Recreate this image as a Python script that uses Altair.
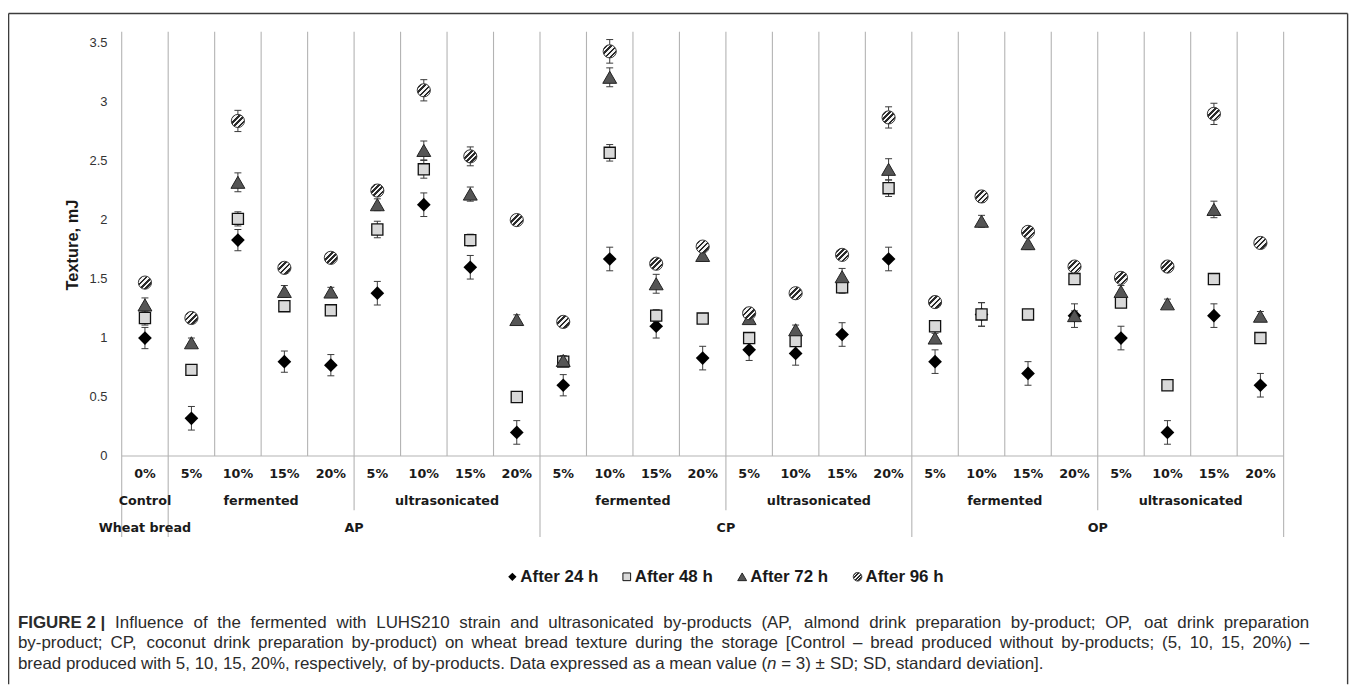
import altair as alt
import pandas as pd

# ---------------- data ----------------
pct_labels = ["0%", "5%", "10%", "15%", "20%", "5%", "10%", "15%", "20%",
              "5%", "10%", "15%", "20%", "5%", "10%", "15%", "20%",
              "5%", "10%", "15%", "20%", "5%", "10%", "15%", "20%"]
level2_names = ["Control", "fermented", "ultrasonicated", "fermented",
                "ultrasonicated", "fermented", "ultrasonicated"]
level2_sizes = [1, 4, 4, 4, 4, 4, 4]
level3_names = ["Wheat bread", "AP", "CP", "OP"]
level3_sizes = [1, 8, 8, 8]

series_names = ["After 24 h", "After 48 h", "After 72 h", "After 96 h"]
after_24h = [1.00, 0.32, 1.83, 0.80, 0.77, 1.38, 2.13, 1.60, 0.20,
             0.60, 1.67, 1.10, 0.83, 0.90, 0.87, 1.03, 1.67,
             0.80, 1.20, 0.70, 1.19, 1.00, 0.20, 1.19, 0.60]
after_48h = [1.17, 0.73, 2.01, 1.27, 1.235, 1.92, 2.43, 1.83, 0.50,
             0.80, 2.57, 1.19, 1.165, 1.00, 0.975, 1.43, 2.27,
             1.10, 1.20, 1.20, 1.50, 1.30, 0.60, 1.50, 1.00]
after_72h = [1.28, 0.96, 2.32, 1.395, 1.39, 2.13, 2.59, 2.22, 1.157,
             0.81, 3.21, 1.46, 1.70, 1.165, 1.07, 1.52, 2.43,
             1.00, 1.99, 1.80, 1.19, 1.395, 1.29, 2.09, 1.185]
after_96h = [1.47, 1.17, 2.84, 1.595, 1.68, 2.25, 3.10, 2.54, 2.00,
             1.137, 3.43, 1.63, 1.775, 1.21, 1.38, 1.705, 2.87,
             1.305, 2.20, 1.90, 1.606, 1.51, 1.606, 2.90, 1.806]
sd_24h = [0.09, 0.10, 0.09, 0.09, 0.09, 0.10, 0.10, 0.10, 0.10,
          0.09, 0.10, 0.10, 0.10, 0.09, 0.10, 0.10, 0.10,
          0.10, 0.10, 0.10, 0.10, 0.10, 0.10, 0.10, 0.10]
sd_48h = [0.06, 0.04, 0.06, 0.04, 0.04, 0.07, 0.075, 0.05, 0.04,
          0.04, 0.07, 0.05, 0.04, 0.04, 0.04, 0.05, 0.07,
          0.04, 0.10, 0.04, 0.04, 0.04, 0.04, 0.04, 0.04]
sd_72h = [0.06, 0.04, 0.08, 0.05, 0.04, 0.05, 0.08, 0.06, 0.04,
          0.04, 0.08, 0.08, 0.05, 0.04, 0.04, 0.07, 0.09,
          0.04, 0.05, 0.05, 0.04, 0.05, 0.04, 0.07, 0.04]
sd_96h = [0.04, 0.04, 0.09, 0.04, 0.04, 0.05, 0.09, 0.08, 0.04,
          0.04, 0.10, 0.04, 0.04, 0.04, 0.04, 0.04, 0.09,
          0.04, 0.05, 0.04, 0.04, 0.04, 0.04, 0.09, 0.04]

y_ticks = [0, 0.5, 1, 1.5, 2, 2.5, 3, 3.5]
y_tick_labels = ["0", "0.5", "1", "1.5", "2", "2.5", "3", "3.5"]
y_title = "Texture, mJ"
y_axis_max = 3.597

caption_bold = "FIGURE 2 |"
caption_line1 = ("Influence of the fermented with LUHS210 strain and ultrasonicated "
                 "by-products (AP, almond drink preparation by-product; OP, oat drink preparation")
caption_line2 = ("by-product; CP, coconut drink preparation by-product) on wheat bread texture during "
                 "the storage [Control \u2013 bread produced without by-products; (5, 10, 15, 20%) \u2013")
caption_line3 = ("bread produced with 5, 10, 15, 20%, respectively, of by-products. Data expressed "
                 "as a mean value (n = 3) \u00b1 SD; SD, standard deviation].")
caption_italic_word = "(n"

# ---------------- layout ----------------
W, H = 1348, 678
PX_CAT = 46.72          # px per category
PLOT_LEFT = 114.3       # px from chart left to first category edge
PX_UNIT = 118.6         # px per mJ
ZERO_Y = 448.6          # px from chart top to y = 0


def ux(px):
    return (px - PLOT_LEFT) / PX_CAT


def uy(py):
    return (ZERO_Y - py) / PX_UNIT


xs = alt.Scale(domain=[ux(0), ux(W)], nice=False, zero=False)
ys = alt.Scale(domain=[uy(H), uy(0)], nice=False, zero=False)


def X(f="x"):
    return alt.X(f"{f}:Q", scale=xs, axis=None)


def Y(f="y"):
    return alt.Y(f"{f}:Q", scale=ys, axis=None)


n_cat = len(pct_labels)
GRID = "#b3b3b3"
TXT = "#1a1a1a"

# gridlines
grid_df = pd.DataFrame({"x": list(range(n_cat + 1)), "y": 0.0, "y2": y_axis_max})
grid = alt.Chart(grid_df).mark_rule(color=GRID, strokeWidth=1.1).encode(
    x=X(), y=Y(), y2="y2:Q")

axis_df = pd.DataFrame({"x": [0], "x2": [n_cat], "y": [0.0]})
axis_line = alt.Chart(axis_df).mark_rule(color=GRID, strokeWidth=1.1).encode(
    x=X(), x2="x2:Q", y=Y())

# separators below the axis
l3_edges = [0]
for s in level3_sizes:
    l3_edges.append(l3_edges[-1] + s)
l2_edges = [0]
for s in level2_sizes:
    l2_edges.append(l2_edges[-1] + s)
sep_rows = []
for e in l3_edges:
    sep_rows.append({"x": e, "y": 0.0, "y2": uy(530)})
for e in l2_edges:
    if e not in l3_edges:
        sep_rows.append({"x": e, "y": 0.0, "y2": uy(503)})
sep = alt.Chart(pd.DataFrame(sep_rows)).mark_rule(color=GRID, strokeWidth=1.1).encode(
    x=X(), y=Y(), y2="y2:Q")

# category labels
LBL = dict(font="DejaVu Sans", fontWeight="bold", fontSize=12.8, color=TXT,
           baseline="middle", align="center")
pct_df = pd.DataFrame({"x": [i + 0.5 for i in range(n_cat)], "y": uy(466.3), "t": pct_labels})
pct_text = alt.Chart(pct_df).mark_text(**LBL).encode(x=X(), y=Y(), text="t:N")

l2_rows = []
for name, a, b in zip(level2_names, l2_edges[:-1], l2_edges[1:]):
    l2_rows.append({"x": (a + b) / 2, "y": uy(494), "t": name})
l2_text = alt.Chart(pd.DataFrame(l2_rows)).mark_text(**LBL).encode(x=X(), y=Y(), text="t:N")

l3_rows = []
for name, a, b in zip(level3_names, l3_edges[:-1], l3_edges[1:]):
    l3_rows.append({"x": (a + b) / 2, "y": uy(521), "t": name})
l3_text = alt.Chart(pd.DataFrame(l3_rows)).mark_text(**LBL).encode(x=X(), y=Y(), text="t:N")

# y tick labels and title
yt_df = pd.DataFrame({"x": ux(100), "y": y_ticks, "t": y_tick_labels})
yt_text = alt.Chart(yt_df).mark_text(font="Liberation Sans", fontSize=13, color="#333333",
                                     align="right", baseline="middle").encode(
    x=X(), y=Y(), text="t:N")
ytitle_df = pd.DataFrame({"x": [ux(65.5)], "y": [uy(236.5)], "t": [y_title]})
ytitle = alt.Chart(ytitle_df).mark_text(font="Liberation Sans", fontSize=16.5, fontWeight="bold",
                                        color=TXT, angle=270, align="center", baseline="middle").encode(
    x=X(), y=Y(), text="t:N")

# data
values = [after_24h, after_48h, after_72h, after_96h]
sds = [sd_24h, sd_48h, sd_72h, sd_96h]
rows = []
for s, vals, sdv in zip(series_names, values, sds):
    for i, (v, sd) in enumerate(zip(vals, sdv)):
        rows.append({"series": s, "x": i + 0.5, "y": v, "lo": v - sd, "hi": v + sd})
df = pd.DataFrame(rows)

EB = "#3a3a3a"
err = alt.Chart(df).mark_rule(color=EB, strokeWidth=1).encode(x=X(), y=Y("lo"), y2="hi:Q")
cap_lo = alt.Chart(df).mark_rule(color=EB, strokeWidth=1, xOffset=-3.5, x2Offset=3.5).encode(
    x=X(), x2="x:Q", y=Y("lo"))
cap_hi = alt.Chart(df).mark_rule(color=EB, strokeWidth=1, xOffset=-3.5, x2Offset=3.5).encode(
    x=X(), x2="x:Q", y=Y("hi"))

stops = []
nb = 10
for k in range(nb):
    c = "#f4f4f4" if k % 2 == 0 else "#2a2a2a"
    stops.append({"offset": k / nb, "color": c})
    stops.append({"offset": (k + 1) / nb, "color": c})
hatch = {"gradient": "linear", "stops": stops, "x1": 0, "y1": 0, "x2": 1, "y2": 1}

styles = [
    dict(shape="diamond", filled=True, fill="#000000", strokeWidth=0, size=190, opacity=1),
    dict(shape="square", filled=True, fill="#d9d9d9", stroke="#111111", strokeWidth=1.3, size=125, opacity=1),
    dict(shape="triangle-up", filled=True, fill="#555555", stroke="#222222", strokeWidth=1, size=195, opacity=1),
    dict(shape="circle", filled=True, fill=hatch, stroke="#3a3a3a", strokeWidth=1, size=175, opacity=1),
]
points = []
for s, st in zip(series_names, styles):
    points.append(alt.Chart(df[df.series == s]).mark_point(**st).encode(x=X(), y=Y()))

# legend (custom)
leg_y = uy(570)
leg_marker_px = [507, 622, 738, 854]
leg_styles = [
    dict(shape="diamond", filled=True, fill="#000000", strokeWidth=0, size=70, opacity=1),
    dict(shape="square", filled=True, fill="#d9d9d9", stroke="#111111", strokeWidth=1, size=60, opacity=1),
    dict(shape="triangle-up", filled=True, fill="#555555", stroke="#222222", strokeWidth=1, size=80, opacity=1),
    dict(shape="circle", filled=True, fill=hatch, stroke="#3a3a3a", strokeWidth=1, size=75, opacity=1),
]
legend_layers = []
for s, px, st in zip(series_names, leg_marker_px, leg_styles):
    ldf = pd.DataFrame({"x": [ux(px)], "xt": [ux(px + 8)], "y": [leg_y], "t": [s]})
    legend_layers.append(alt.Chart(ldf).mark_point(**st).encode(x=X(), y=Y()))
    legend_layers.append(alt.Chart(ldf).mark_text(font="Liberation Sans", fontSize=17, fontWeight="bold",
                                                  color=TXT, align="left", baseline="middle").encode(
        x=X("xt"), y=Y(), text="t:N"))

# frame
one = pd.DataFrame({"a": [0]})
FR = "#3c3c3c"
frame_top = alt.Chart(one).mark_rule(color=FR, strokeWidth=1.4).encode(
    x=alt.value(0.6), x2=alt.value(1346.6), y=alt.value(3.7))
frame_left = alt.Chart(one).mark_rule(color=FR, strokeWidth=1.4).encode(
    x=alt.value(0.6), y=alt.value(3.7), y2=alt.value(H))
frame_right = alt.Chart(one).mark_rule(color=FR, strokeWidth=1.4).encode(
    x=alt.value(1346.6), y=alt.value(3.7), y2=alt.value(H))

# ---------------- caption (justified, Arial metrics) ----------------
AW = {' ': 278, ',': 278, '.': 278, ';': 278, ':': 278, '-': 333, '(': 333, ')': 333,
      '[': 278, ']': 278, '%': 889, '=': 584, '\u00b1': 584, '\u2013': 556, '|': 260}
for ch in "0123456789":
    AW[ch] = 556
AW.update(dict(zip("ABCDEFGHIJKLMNOPQRSTUVWXYZ",
                   [667, 667, 722, 722, 667, 611, 778, 722, 278, 500, 667, 556, 833,
                    722, 778, 667, 778, 722, 667, 611, 722, 667, 944, 667, 667, 611])))
AW.update(dict(zip("abcdefghijklmnopqrstuvwxyz",
                   [556, 556, 500, 556, 556, 278, 556, 556, 222, 222, 500, 222, 833,
                    556, 556, 556, 556, 333, 500, 278, 556, 500, 722, 500, 500, 500])))
ABW = {'F': 611, 'I': 278, 'G': 778, 'U': 722, 'R': 722, 'E': 667, '2': 556, '|': 280, ' ': 278}

CAP_SIZE = 17
CAP = "#2b2b2b"
CAP_X0, CAP_X1 = 10, 1308


def tw(text, bold=False):
    tab = ABW if bold else AW
    return sum(tab.get(c, AW.get(c, 556)) for c in text) * CAP_SIZE / 1000.0


def word_pieces(w):
    if w == caption_bold:
        return [(w, "bold")]
    if w == caption_italic_word:
        return [("(", "normal"), ("n", "italic")]
    return [(w, "normal")]


cap_rows = []
for words, py, justify in [([caption_bold] + caption_line1.split(" "), 616, True),
                           (caption_line2.split(" "), 637, True),
                           (caption_line3.split(" "), 658, False)]:
    pieces = [word_pieces(w) for w in words]
    widths = [sum(tw(t, st == "bold") for t, st in p) for p in pieces]
    if justify:
        gap = (CAP_X1 - CAP_X0 - sum(widths)) / (len(words) - 1)
    else:
        gap = tw(" ")
    x = CAP_X0
    for p, wdt in zip(pieces, widths):
        xx = x
        for t, st in p:
            cap_rows.append({"x": ux(xx), "y": uy(py), "t": t, "st": st})
            xx += tw(t, st == "bold")
        x += wdt + gap
cap_df = pd.DataFrame(cap_rows)
cap_layers = []
for st, fw, fs in [("normal", "normal", "normal"), ("bold", "bold", "normal"), ("italic", "normal", "italic")]:
    sub = cap_df[cap_df.st == st]
    cap_layers.append(alt.Chart(sub).mark_text(font="Liberation Sans", fontSize=CAP_SIZE, fontWeight=fw,
                                               fontStyle=fs, color=CAP, align="left",
                                               baseline="middle").encode(x=X(), y=Y(), text="t:N"))

chart = alt.layer(
    grid, axis_line, sep, pct_text, l2_text, l3_text, yt_text, ytitle,
    err, cap_lo, cap_hi, *points, *legend_layers,
    frame_top, frame_left, frame_right, *cap_layers,
).properties(
    width=W, height=H, padding=0,
    autosize=alt.AutoSizeParams(type="none"),
    background="white",
).configure_view(strokeWidth=0)

chart.save("out.html", embed_options={"renderer": "svg", "actions": False})
